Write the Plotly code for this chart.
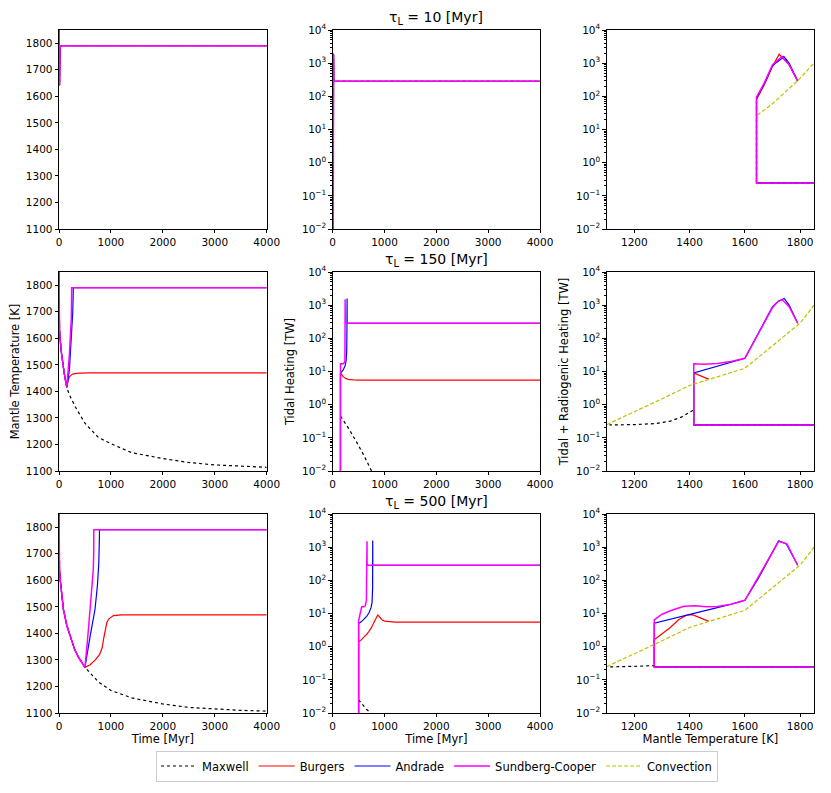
import plotly.graph_objects as go

# ---------------- data ----------------
models = ["Maxwell", "Burgers", "Andrade", "Sundberg-Cooper"]
colors = {"Maxwell": "black", "Burgers": "#ff0000", "Andrade": "#0000ff",
          "Sundberg-Cooper": "#ff00ff"}
tau_labels = ["10", "150", "500"]

# tau_L = 10 Myr : mantle temperature [K] vs time [Myr] (all models alike)
t_temp_10 = [0, 1, 3, 6, 10, 15, 20, 4000]
temp_10 = [1900, 1720, 1670, 1655, 1642, 1710, 1791, 1791]

# tau_L = 10 Myr : tidal heating [TW] vs time
t_tide_10 = [10, 10, 12, 14, 16, 18, 20, 4000]
tide_10 = [1e-4, 90, 300, 1000, 1800, 900, 285, 285]
tide_10_burgers = [1e-4, 80, 300, 1100, 1950, 950, 285, 285]

# tau_L = 10 Myr : tidal + radiogenic heating vs mantle temperature
T_heat_10_max = [1900, 1642, 1642, 1670, 1700, 1738, 1760, 1791]
heat_10_max = [0.245, 0.245, 90, 240, 850, 1600, 900, 290]
T_heat_10_bur = [1900, 1642, 1642, 1670, 1700, 1724, 1760, 1791]
heat_10_bur = [0.245, 0.245, 80, 220, 800, 1850, 900, 290]
T_heat_10_and = [1900, 1642, 1642, 1670, 1700, 1742, 1760, 1791]
heat_10_and = [0.245, 0.245, 90, 240, 850, 1550, 1000, 290]
T_heat_10_sc = [1900, 1642, 1642, 1670, 1700, 1734, 1760, 1791]
heat_10_sc = [0.245, 0.245, 95, 250, 900, 1550, 900, 290]
T_conv_10 = [1645, 1700, 1790, 1850]
conv_10 = [27, 60, 290, 1000]

# tau_L = 150 Myr : mantle temperature vs time
t_cool_150 = [0, 2, 10, 25, 50, 100, 150]
temp_cool_150 = [1900, 1680, 1630, 1590, 1540, 1470, 1415]
t_temp_150_max = [200, 310, 500, 760, 1000, 1400, 2000, 2500, 3000, 3500, 4000]
temp_150_max = [1387, 1343, 1280, 1226, 1203, 1169, 1147, 1132, 1123, 1118, 1114]
t_temp_150_bur = [175, 200, 250, 300, 400, 600, 4000]
temp_150_bur = [1440, 1455, 1464, 1467, 1469, 1470, 1470]
t_temp_150_and = [200, 244, 265, 276, 4000]
temp_150_and = [1480, 1610, 1700, 1791, 1791]
t_temp_150_sc = [200, 238, 244, 4000]
temp_150_sc = [1540, 1680, 1791, 1791]

# tau_L = 150 Myr : tidal heating vs time
t_tide_150_max = [150, 300, 450, 600, 750, 850]
tide_150_max = [0.45, 0.2, 0.08, 0.03, 0.01, 0.005]
t_tide_150_bur = [150, 150, 175, 200, 250, 300, 400, 500, 4000]
tide_150_bur = [1e-4, 9, 8, 7, 6.2, 5.8, 5.6, 5.5, 5.5]
t_tide_150_and = [150, 150, 200, 240, 260, 270, 275, 278, 279, 4000]
tide_150_and = [1e-4, 9, 11, 15, 22, 40, 200, 1600, 285, 285]
t_tide_150_sc = [150, 150, 160, 206, 235, 238, 240, 242, 4000]
tide_150_sc = [1e-4, 17, 17, 17, 20, 200, 1500, 285, 285]

# tau_L = 150 Myr : tidal + radiogenic heating vs mantle temperature
T_heat_150_max = [1900, 1415, 1415, 1400, 1370, 1330, 1280, 1200, 1110]
heat_150_max = [0.245, 0.245, 0.7, 0.58, 0.42, 0.32, 0.27, 0.25, 0.245]
T_heat_150_bur = [1900, 1415, 1415, 1440, 1470]
heat_150_bur = [0.245, 0.245, 9, 7.5, 5.8]
T_heat_150_and = [1900, 1415, 1415, 1450, 1500, 1550, 1600, 1650, 1700, 1720,
                  1742, 1760, 1791]
heat_150_and = [0.245, 0.245, 9, 11, 14.5, 19, 25, 150, 900, 1300, 1600, 1000, 285]
T_heat_150_sc = [1900, 1415, 1415, 1450, 1500, 1550, 1600, 1650, 1700, 1720,
                 1735, 1760, 1791]
heat_150_sc = [0.245, 0.245, 17, 16.5, 17.5, 20, 25, 140, 850, 1300, 1450, 900, 285]
T_conv = [1100, 1200, 1300, 1400, 1500, 1600, 1700, 1800, 1850]
conv = [0.25, 0.6, 1.5, 3.8, 6.8, 12.5, 60, 290, 1000]

# tau_L = 500 Myr : mantle temperature vs time
t_cool_500 = [0, 2, 10, 25, 50, 85, 150, 244, 300, 373, 430, 500]
temp_cool_500 = [1900, 1680, 1640, 1600, 1550, 1490, 1430, 1368, 1340, 1311,
                 1292, 1272]
t_temp_500_max = [760, 1000, 1400, 2000, 2500, 3000, 3500, 4000]
temp_500_max = [1217, 1185, 1157, 1134, 1121, 1115, 1110, 1107]
t_temp_500_bur = [600, 700, 780, 830, 860, 885, 920, 960, 1050, 1200, 4000]
temp_500_bur = [1282, 1300, 1320, 1345, 1380, 1412, 1440, 1455, 1467, 1470, 1470]
t_temp_500_and = [600, 693, 740, 765, 777, 780, 4000]
temp_500_and = [1390, 1490, 1580, 1660, 1750, 1791, 1791]
t_temp_500_sc = [560, 597, 640, 660, 668, 670, 4000]
temp_500_sc = [1400, 1490, 1590, 1640, 1700, 1791, 1791]

# tau_L = 500 Myr : tidal heating vs time
t_tide_500_max = [500, 550, 600, 650, 720, 760]
tide_500_max = [0.025, 0.020, 0.016, 0.013, 0.0105, 0.009]
t_tide_500_bur = [500, 500, 550, 600, 650, 700, 750, 800, 850, 870, 900, 950,
                  1000, 1100, 1200, 4000]
tide_500_bur = [1e-4, 1.4, 1.6, 1.9, 2.3, 2.9, 3.8, 5.5, 8.5, 9, 8, 6.5, 5.9,
                5.6, 5.5, 5.5]
t_tide_500_and = [500, 500, 550, 600, 650, 700, 740, 760, 770, 772, 774, 4000]
tide_500_and = [1e-4, 5, 5.6, 6.6, 8, 10.5, 15, 22, 60, 1600, 285, 285]
t_tide_500_sc = [500, 500, 530, 560, 600, 630, 650, 660, 662, 664, 4000]
tide_500_sc = [1e-4, 6, 10, 16, 16, 17, 25, 200, 1500, 285, 285]

# tau_L = 500 Myr : tidal + radiogenic heating vs mantle temperature
T_heat_500_max = [1900, 1272, 1272, 1240, 1200, 1150, 1110]
heat_500_max = [0.245, 0.245, 0.27, 0.26, 0.255, 0.25, 0.245]
T_heat_500_bur = [1900, 1272, 1272, 1300, 1330, 1360, 1390, 1410, 1440, 1470]
heat_500_bur = [0.245, 0.245, 1.6, 2.4, 3.8, 6.5, 9.0, 9.2, 7.5, 5.8]
T_heat_500_and = [1900, 1272, 1272, 1300, 1350, 1400, 1450, 1500, 1550, 1600,
                  1650, 1700, 1722, 1750, 1791]
heat_500_and = [0.245, 0.245, 5.1, 5.8, 7.2, 9, 11.5, 15, 19, 25, 120, 700,
                1550, 1250, 285]
T_heat_500_sc = [1900, 1272, 1272, 1300, 1340, 1380, 1420, 1460, 1500, 1550,
                 1600, 1650, 1700, 1722, 1752, 1791]
heat_500_sc = [0.245, 0.245, 6.4, 9.5, 13, 16.5, 17, 16, 16.2, 19, 25, 130,
               740, 1500, 1260, 285]

# ---------------- assemble panels ----------------
temp_panels = [
    {m: (t_temp_10, temp_10) for m in models},
    {"Maxwell": (t_cool_150 + t_temp_150_max, temp_cool_150 + temp_150_max),
     "Burgers": (t_cool_150 + t_temp_150_bur, temp_cool_150 + temp_150_bur),
     "Andrade": (t_cool_150 + t_temp_150_and, temp_cool_150 + temp_150_and),
     "Sundberg-Cooper": (t_cool_150 + t_temp_150_sc, temp_cool_150 + temp_150_sc)},
    {"Maxwell": (t_cool_500 + t_temp_500_max, temp_cool_500 + temp_500_max),
     "Burgers": (t_cool_500 + t_temp_500_bur, temp_cool_500 + temp_500_bur),
     "Andrade": (t_cool_500 + t_temp_500_and, temp_cool_500 + temp_500_and),
     "Sundberg-Cooper": (t_cool_500 + t_temp_500_sc, temp_cool_500 + temp_500_sc)},
]
tide_panels = [
    {"Maxwell": (t_tide_10, tide_10), "Burgers": (t_tide_10, tide_10_burgers),
     "Andrade": (t_tide_10, tide_10), "Sundberg-Cooper": (t_tide_10, tide_10)},
    {"Maxwell": (t_tide_150_max, tide_150_max), "Burgers": (t_tide_150_bur, tide_150_bur),
     "Andrade": (t_tide_150_and, tide_150_and), "Sundberg-Cooper": (t_tide_150_sc, tide_150_sc)},
    {"Maxwell": (t_tide_500_max, tide_500_max), "Burgers": (t_tide_500_bur, tide_500_bur),
     "Andrade": (t_tide_500_and, tide_500_and), "Sundberg-Cooper": (t_tide_500_sc, tide_500_sc)},
]
heat_panels = [
    {"Maxwell": (T_heat_10_max, heat_10_max), "Burgers": (T_heat_10_bur, heat_10_bur),
     "Andrade": (T_heat_10_and, heat_10_and), "Sundberg-Cooper": (T_heat_10_sc, heat_10_sc)},
    {"Maxwell": (T_heat_150_max, heat_150_max), "Burgers": (T_heat_150_bur, heat_150_bur),
     "Andrade": (T_heat_150_and, heat_150_and), "Sundberg-Cooper": (T_heat_150_sc, heat_150_sc)},
    {"Maxwell": (T_heat_500_max, heat_500_max), "Burgers": (T_heat_500_bur, heat_500_bur),
     "Andrade": (T_heat_500_and, heat_500_and), "Sundberg-Cooper": (T_heat_500_sc, heat_500_sc)},
]
conv_panels = [(T_conv_10, conv_10), (T_conv, conv), (T_conv, conv)]

# panel geometry in pixels of the reference; the page body adds an 8px margin
W, H = 831, 793
OFF = 8
col_x = [(59, 266.7), (332.7, 540), (606.7, 814)]
row_y = [(30, 229), (272, 471), (514, 713)]

FONT = "DejaVu Sans"
fig = go.Figure()


def line_style(m):
    if m == "Maxwell":
        return dict(color="black", width=1.2, dash="dot")
    if m == "Sundberg-Cooper":
        return dict(color=colors[m], width=1.5)
    return dict(color=colors[m], width=1.2)


shown = set()
for r in range(3):
    for c in range(3):
        k = r * 3 + c + 1
        xa, ya = ("x" if k == 1 else f"x{k}"), ("y" if k == 1 else f"y{k}")
        panel = [temp_panels, tide_panels, heat_panels][c][r]
        for m in models:
            xs, ys = panel[m]
            fig.add_trace(go.Scatter(
                x=xs, y=ys, mode="lines", name=m, legendgroup=m,
                showlegend=m not in shown, line=line_style(m),
                xaxis=xa, yaxis=ya, hoverinfo="skip"))
            shown.add(m)
        if c == 2:
            xs, ys = conv_panels[r]
            fig.add_trace(go.Scatter(
                x=xs, y=ys, mode="lines", name="Convection", legendgroup="conv",
                showlegend="Convection" not in shown,
                line=dict(color="#bfbf00", width=1.2, dash="4px,2px"),
                xaxis=xa, yaxis=ya, hoverinfo="skip"))
            shown.add("Convection")

log_vals = [1e-2, 1e-1, 1, 10, 100, 1000, 10000]
log_text = ["10<sup>−2</sup>", "10<sup>−1</sup>", "10<sup>0</sup>", "10<sup>1</sup>",
            "10<sup>2</sup>", "10<sup>3</sup>", "10<sup>4</sup>"]
minor_vals = [m * 10 ** e for e in range(-2, 4) for m in range(2, 10)]

axis_common = dict(showline=True, linecolor="black", linewidth=0.8, mirror=True,
                   ticks="outside", ticklen=3.5, tickwidth=0.8, tickcolor="black",
                   showgrid=False, zeroline=False, automargin=False,
                   tickfont=dict(family=FONT, size=10.5, color="black"))

layout = dict(width=W, height=H, margin=dict(l=0, r=0, t=0, b=0),
              plot_bgcolor="white", paper_bgcolor="white",
              font=dict(family=FONT, color="black"))

for r in range(3):
    for c in range(3):
        k = r * 3 + c + 1
        sfx = "" if k == 1 else str(k)
        x0, x1 = col_x[c][0] - OFF, col_x[c][1] - OFF
        y0, y1 = row_y[r][0] - OFF, row_y[r][1] - OFF
        xd = dict(axis_common, domain=[x0 / W, x1 / W], anchor="y" + sfx)
        yd = dict(axis_common, domain=[1 - y1 / H, 1 - y0 / H], anchor="x" + sfx)
        if c < 2:
            xd.update(range=[0, 4000], tickvals=[0, 1000, 2000, 3000, 4000])
        else:
            xd.update(range=[1100, 1850], tickvals=[1200, 1400, 1600, 1800])
        if c == 0:
            yd.update(range=[1100, 1850], tickvals=list(range(1100, 1801, 100)))
        else:
            yd.update(type="log", range=[-2, 4], tickmode="array", tickvals=log_vals,
                      ticktext=log_text,
                      minor=dict(tickmode="array", tickvals=minor_vals, ticks="outside",
                                 ticklen=2, tickwidth=0.6, tickcolor="black"))
        if r == 2:
            xd["title"] = dict(text=["Time [Myr]", "Time [Myr]", "Mantle Temperature [K]"][c],
                               font=dict(family=FONT, size=11.5), standoff=2)
        if r == 1:
            yd["title"] = dict(text=["Mantle Temperature [K]", "Tidal Heating [TW]",
                                     "Tidal + Radiogenic Heating [TW]"][c],
                               font=dict(family=FONT, size=11.5), standoff=4)
        layout["xaxis" + sfx] = xd
        layout["yaxis" + sfx] = yd

annotations = []
for r in range(3):
    x0, x1 = col_x[1][0] - OFF, col_x[1][1] - OFF
    annotations.append(dict(
        text=f"τ<sub>L</sub> = {tau_labels[r]} [Myr]", showarrow=False,
        xref="paper", yref="paper", x=(x0 + x1) / 2 / W, y=1 - (row_y[r][0] - OFF) / H,
        xanchor="center", yanchor="bottom", yshift=1,
        font=dict(family=FONT, size=14, color="black")))
layout["annotations"] = annotations

layout["legend"] = dict(orientation="h", x=(437 - OFF) / W, xanchor="center",
                        y=1 - (766 - OFF) / H, yanchor="middle",
                        bordercolor="#cccccc", borderwidth=1,
                        font=dict(family=FONT, size=11.5), itemwidth=36,
                        bgcolor="white")

fig.update_layout(**layout)
fig.write_html("out.html")
